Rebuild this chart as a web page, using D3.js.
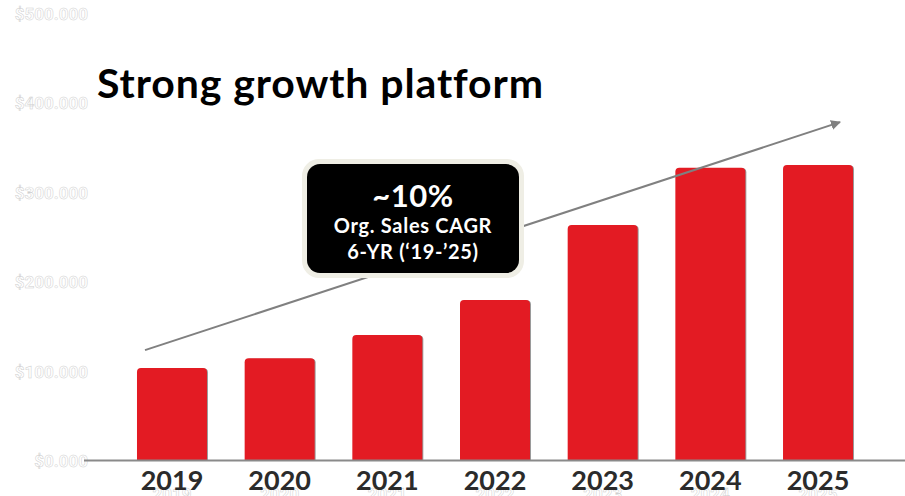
<!DOCTYPE html>
<html>
<head>
<meta charset="utf-8">
<script src="https://cdn.jsdelivr.net/npm/d3@7"></script>
<style>
  html, body { margin: 0; padding: 0; background: #ffffff; }
  svg { display: block; }
</style>
</head>
<body>
<svg id="chart" width="905" height="496"></svg>
<script>
// Organic sales by year (in $ thousands)
const years = ["2019", "2020", "2021", "2022", "2023", "2024", "2025"];
const sales = [104, 115, 141, 180, 264, 328, 331];
const yTicks = [0, 100, 200, 300, 400, 500];
const yTickLabels = ["$0.000", "$100.000", "$200.000", "$300.000", "$400.000", "$500.000"];
const calloutLines = ["~10%", "Org. Sales CAGR", "6-YR (\u201819-\u201925)"];
const title = "Strong growth platform";

const svg = d3.select("#chart");
const W = 905, H = 496;

const x = d3.scaleBand().domain(years).range([99.3, 890.7]).paddingInner(0.35).paddingOuter(0.35);
const y = d3.scaleLinear().domain([0, 500]).range([461, 14]);

const font = "Lato, 'Open Sans', sans-serif";

// faint outlined value labels
const yAxis = svg.append("g");
yAxis.selectAll("text").data(yTicks).join("text")
  .attr("x", 88).attr("y", d => y(d))
  .attr("dy", "0.35em")
  .attr("text-anchor", "end")
  .attr("font-family", "Roboto, sans-serif")
  .attr("font-weight", 700)
  .attr("font-size", 17)
  .attr("fill", "#ffffff")
  .attr("stroke", "#cfcfcf")
  .attr("stroke-width", 0.5)
  .text((d, i) => yTickLabels[i]);

// faint outlined category labels underneath the bold ones
svg.append("g").selectAll("text").data(years).join("text")
  .attr("x", d => x(d) + x.bandwidth() / 2)
  .attr("y", 500)
  .attr("text-anchor", "middle")
  .attr("font-family", "Roboto, sans-serif")
  .attr("font-weight", 700)
  .attr("font-size", 17)
  .attr("fill", "#ffffff")
  .attr("stroke", "#cfcfcf")
  .attr("stroke-width", 0.5)
  .text(d => d);

// bars with rounded top corners
function barPath(x0, y0, w, h, r) {
  return `M${x0},${y0 + h}V${y0 + r}Q${x0},${y0} ${x0 + r},${y0}H${x0 + w - r}Q${x0 + w},${y0} ${x0 + w},${y0 + r}V${y0 + h}Z`;
}
const bars = svg.append("g");
bars.selectAll("path.shadow").data(years).join("path")
  .attr("class", "shadow")
  .attr("d", (d, i) => barPath(x(d) + 1, y(sales[i]) + 0.5, x.bandwidth(), y(0) - y(sales[i]) - 0.5, 4))
  .attr("fill", "#9a9a9a");
bars.selectAll("path.bar").data(years).join("path")
  .attr("class", "bar")
  .attr("d", (d, i) => barPath(x(d), y(sales[i]), x.bandwidth(), y(0) - y(sales[i]), 4))
  .attr("fill", "#e31b23");

// baseline
svg.append("line")
  .attr("x1", 84).attr("x2", W)
  .attr("y1", y(0) - 0.5).attr("y2", y(0) - 0.5)
  .attr("stroke", "#8a8a8a").attr("stroke-width", 2);

// bold category labels
svg.append("g").selectAll("text").data(years).join("text")
  .attr("x", d => x(d) + x.bandwidth() / 2)
  .attr("y", 490)
  .attr("text-anchor", "middle")
  .attr("font-family", font)
  .attr("font-weight", 700)
  .attr("font-size", 27)
  .attr("fill", "#2b2b2b")
  .text(d => d);

// growth trend arrow
svg.append("defs").append("marker")
  .attr("id", "arrowhead")
  .attr("viewBox", "0 0 10 10")
  .attr("refX", 9).attr("refY", 5)
  .attr("markerWidth", 5).attr("markerHeight", 5)
  .attr("markerUnits", "strokeWidth")
  .attr("orient", "auto")
  .append("path").attr("d", "M0,0L10,5L0,10Z").attr("fill", "#808080");

const x2019 = x("2019") + x.bandwidth() / 2;
const x2025 = x("2025") + x.bandwidth() / 2;
svg.append("line")
  .attr("x1", x2019 - 27).attr("y1", y(124))
  .attr("x2", x2025 + 22).attr("y2", y(379))
  .attr("stroke", "#808080").attr("stroke-width", 2)
  .attr("marker-end", "url(#arrowhead)");

// CAGR callout
const cx = 413;
const callout = svg.append("g");
callout.append("rect")
  .attr("x", 302).attr("y", 159).attr("width", 222).attr("height", 119)
  .attr("rx", 17).attr("fill", "#efeee5");
callout.append("rect")
  .attr("x", 307).attr("y", 164).attr("width", 212).attr("height", 109)
  .attr("rx", 13).attr("fill", "#000000");
const sizes = [31, 20, 20];
const spacing = [0.5, 0.7, 0.7];
const baselines = [207, 233, 259];
callout.selectAll("text").data(calloutLines).join("text")
  .attr("x", cx)
  .attr("y", (d, i) => baselines[i])
  .attr("text-anchor", "middle")
  .attr("font-family", font)
  .attr("font-weight", 700)
  .attr("font-size", (d, i) => sizes[i])
  .attr("letter-spacing", (d, i) => spacing[i])
  .attr("fill", "#ffffff")
  .text(d => d);

// title
svg.append("text")
  .attr("x", 97).attr("y", 98)
  .attr("font-family", font)
  .attr("font-weight", 700)
  .attr("font-size", 41)
  .attr("letter-spacing", 0.9)
  .attr("fill", "#000000")
  .text(title);
</script>
</body>
</html>
